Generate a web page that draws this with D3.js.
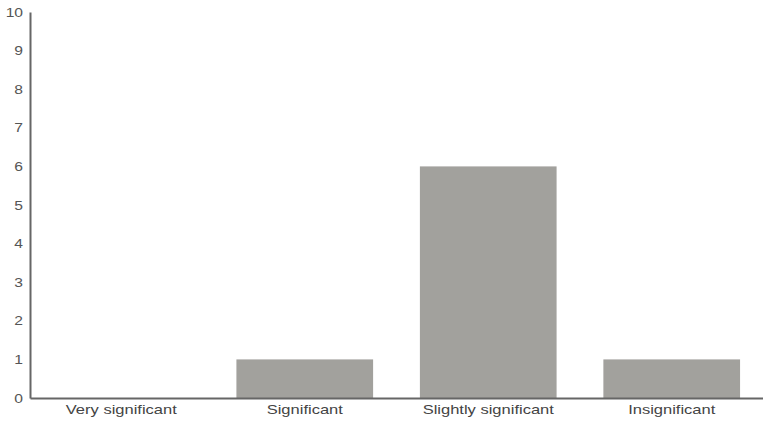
<!DOCTYPE html>
<html><head><meta charset="utf-8">
<script src="https://cdn.jsdelivr.net/npm/d3@7"></script>
<style>
html,body{margin:0;padding:0;background:#fff;}
svg{display:block;}
</style></head>
<body>
<svg id="chart" width="763" height="425"></svg>
<script>
const categories = ["Very significant", "Significant", "Slightly significant", "Insignificant"];
const values = [0, 1, 6, 1];
const yTicks = [0,1,2,3,4,5,6,7,8,9,10];

const svg = d3.select("#chart");
const x = d3.scaleBand().domain(categories).range([30, 763]).paddingInner(0.255).paddingOuter(0.125);
const y = d3.scaleLinear().domain([0, 10]).range([398, 12]);

svg.selectAll("rect.bar").data(values).join("rect")
  .attr("class","bar")
  .attr("x",(d,i)=>x(categories[i]))
  .attr("y",d=>y(d))
  .attr("width",x.bandwidth())
  .attr("height",d=>y(0)-y(d))
  .attr("fill","#a2a19d");

function stretch(sel, k){
  sel.each(function(){
    const w = this.getComputedTextLength();
    d3.select(this).attr("textLength", w*k).attr("lengthAdjust","spacingAndGlyphs");
  });
}

const yAxis = svg.append("g").attr("transform","translate(30,0)")
  .call(d3.axisLeft(y).tickValues(yTicks).tickSize(0).tickPadding(7).tickFormat(d3.format("d")));
yAxis.select(".domain").attr("stroke","#666").attr("stroke-width",2);
yAxis.selectAll("text").attr("font-family","Liberation Sans, Arial, sans-serif").attr("font-size",12.5).attr("fill","#555");
stretch(yAxis.selectAll("text"), 1.25);

const xAxis = svg.append("g").attr("transform","translate(0,398)")
  .call(d3.axisBottom(x).tickSize(0).tickPadding(7));
xAxis.select(".domain").attr("stroke","#666").attr("stroke-width",2);
xAxis.selectAll("text").attr("font-family","Liberation Sans, Arial, sans-serif").attr("font-size",13).attr("fill","#444");
stretch(xAxis.selectAll("text"), 1.27);
</script>
</body></html>
